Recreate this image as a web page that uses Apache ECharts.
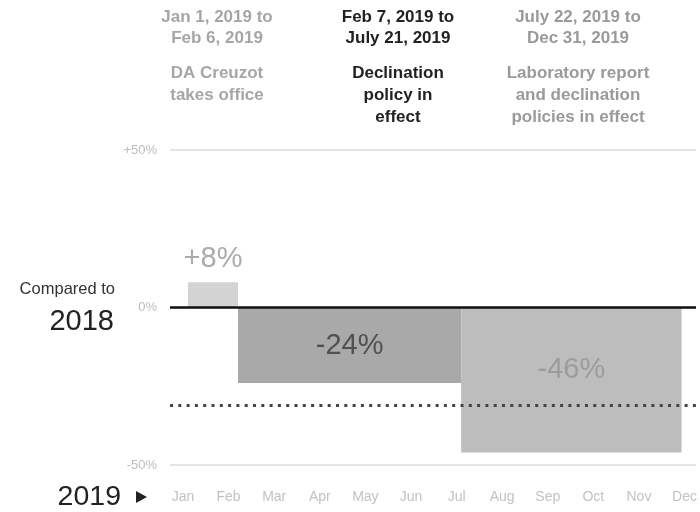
<!DOCTYPE html>
<html>
<head>
<meta charset="utf-8">
<script src="https://cdn.jsdelivr.net/npm/echarts@6/dist/echarts.min.js"></script>
<style>
  html, body { margin: 0; padding: 0; background: #fff; }
  #chart { width: 700px; height: 512px; }
</style>
</head>
<body>
<div id="chart"></div>
<script>
// Periods of 2019 and the change in cases compared to 2018
const periodStarts = ['2019-01-01', '2019-02-07', '2019-07-22'];
const periodEnds = ['2019-02-06', '2019-07-21', '2019-12-31'];
const changeVs2018 = [8, -24, -46];
const referenceLevel = -31;

const periodDates = [
  ['Jan 1, 2019 to', 'Feb 6, 2019'],
  ['Feb 7, 2019 to', 'July 21, 2019'],
  ['July 22, 2019 to', 'Dec 31, 2019']
];
const periodNotes = [
  ['DA Creuzot', 'takes office'],
  ['Declination', 'policy in', 'effect'],
  ['Laboratory report', 'and declination', 'policies in effect']
];

const months = ['Jan', 'Feb', 'Mar', 'Apr', 'May', 'Jun', 'Jul', 'Aug', 'Sep', 'Oct', 'Nov', 'Dec'];
const yTicks = [-50, 0, 50];

// Day-of-year helpers (inclusive period ends)
const DAY = 86400000;
function dayIndex(s) {
  const [y, m, d] = s.split('-').map(Number);
  return (Date.UTC(y, m - 1, d) - Date.UTC(2019, 0, 1)) / DAY;
}
const barData = changeVs2018.map((v, i) => [dayIndex(periodStarts[i]), dayIndex(periodEnds[i]) + 1, v]);

// Styling
const barColors = ['#d3d3d3', '#a9a9a9', '#bdbdbd'];
const labelColors = ['#ababab', '#505050', '#9c9c9c'];
const labelOffsets = [-23, 38, 62];
const headerColors = ['#a6a6a6', '#222222', '#9a9a9a'];
const headerCenters = [217, 398, 578];
const FONT = '"Liberation Sans", Arial, sans-serif';

const chart = echarts.init(document.getElementById('chart'), null, { renderer: 'canvas' });

const headerGraphics = [];
periodDates.forEach((lines, c) => {
  const all = lines.concat(periodNotes[c]);
  all.forEach((t, k) => {
    const y = k < 2 ? 17 + k * 21.5 : 73 + (k - 2) * 22;
    headerGraphics.push({
      type: 'text', x: headerCenters[c], y: y,
      style: {
        text: t, fill: headerColors[c],
        font: 'bold 17px ' + FONT,
        textAlign: 'center', textVerticalAlign: 'middle'
      }
    });
  });
});

const option = {
  animation: false,
  backgroundColor: '#fff',
  grid: [
    { left: 170, right: 4, top: 150, bottom: 47 },
    { left: 183, right: 14, top: 150, bottom: 47 }
  ],
  xAxis: [
    { type: 'value', gridIndex: 0, min: -13.3, max: 375.7, show: false },
    {
      type: 'category', gridIndex: 1, data: months, boundaryGap: false,
      axisLine: { show: false }, axisTick: { show: false },
      axisLabel: { color: '#c2c2c2', fontSize: 14, fontFamily: 'Liberation Sans', margin: 25, interval: 0 }
    }
  ],
  yAxis: [
    {
      type: 'value', gridIndex: 0, min: yTicks[0], max: yTicks[yTicks.length - 1], interval: 50,
      axisLine: { show: false }, axisTick: { show: false },
      axisLabel: {
        color: '#bdbdbd', fontSize: 13, fontFamily: 'Liberation Sans', margin: 13,
        formatter: v => (v > 0 ? '+' : '') + v + '%'
      },
      splitLine: { lineStyle: { color: '#dcdcdc', width: 1.5 } }
    },
    { type: 'value', gridIndex: 1, show: false }
  ],
  series: [
    {
      type: 'custom',
      xAxisIndex: 0, yAxisIndex: 0,
      data: barData,
      renderItem: function (params, api) {
        const i = params.dataIndex;
        const v = api.value(2);
        const p0 = api.coord([api.value(0), 0]);
        const p1 = api.coord([api.value(1), v]);
        const top = Math.min(p0[1], p1[1]);
        const h = Math.abs(p1[1] - p0[1]);
        const cx = (p0[0] + p1[0]) / 2;
        const ly = v > 0 ? p1[1] + labelOffsets[i] : p0[1] + labelOffsets[i];
        return {
          type: 'group',
          children: [
            { type: 'rect', shape: { x: p0[0], y: top, width: p1[0] - p0[0], height: h }, style: { fill: barColors[i] } },
            {
              type: 'text', x: cx, y: ly, z2: 5,
              style: {
                text: (v > 0 ? '+' : '') + v + '%', fill: labelColors[i],
                font: '29px ' + FONT,
                textAlign: 'center', textVerticalAlign: 'middle'
              }
            }
          ]
        };
      },
      markLine: {
        silent: true, symbol: 'none', label: { show: false }, z: 10,
        data: [
          { yAxis: 0, lineStyle: { color: '#111', width: 2.5, type: 'solid' } },
          { yAxis: referenceLevel, lineStyle: { color: '#444', width: 3, type: [3, 5.3] } }
        ]
      },
      z: 2
    }
  ],
  graphic: headerGraphics.concat([
    {
      type: 'text', x: 115, y: 289,
      style: { text: 'Compared to', fill: '#333', font: '16.5px ' + FONT, textAlign: 'right', textVerticalAlign: 'middle' }
    },
    {
      type: 'text', x: 114, y: 322,
      style: { text: '2018', fill: '#222', font: '29px ' + FONT, textAlign: 'right', textVerticalAlign: 'middle' }
    },
    {
      type: 'text', x: 121, y: 497,
      style: { text: '2019', fill: '#222', font: '28.5px ' + FONT, textAlign: 'right', textVerticalAlign: 'middle' }
    },
    {
      type: 'polygon',
      shape: { points: [[136, 491], [147, 497], [136, 503]] },
      style: { fill: '#222' }
    }
  ])
};

chart.setOption(option);
</script>
</body>
</html>
